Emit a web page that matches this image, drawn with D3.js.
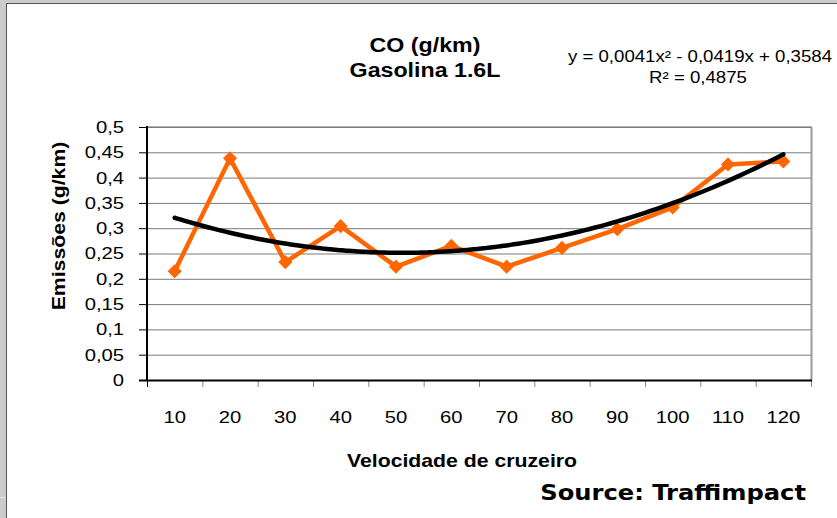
<!doctype html>
<html>
<head>
    <meta charset="utf-8">
    <style>
        body { margin: 0; background: #fff; }
        text { font-family: 'Liberation Sans', Arial, sans-serif; fill: #000; }
    </style>
    <script src="https://d3js.org/d3.v7.min.js"></script>
</head>
<body>
    <script>
        var categories = ["10", "20", "30", "40", "50", "60", "70", "80", "90", "100", "110", "120"];
        var emissions = [0.215, 0.438, 0.233, 0.304, 0.224, 0.265, 0.224, 0.261, 0.298, 0.341, 0.426, 0.432];
        var yTicks = [0, 0.05, 0.1, 0.15, 0.2, 0.25, 0.3, 0.35, 0.4, 0.45, 0.5];
        // polynomial trendline coefficients (c0, c1, c2), x = category index 1..12
        var trendCoef = [0.3584, -0.0419, 0.0041];

        var W = 837, H = 518;
        var SX = 1.19; // the original fonts run wider than Arial
        var svg = d3.select("body").append("svg").attr("width", W).attr("height", H);

        // frame
        svg.append("rect").attr("width", W).attr("height", H).attr("fill", "#cccccc");
        svg.append("rect").attr("x", 6).attr("y", 3).attr("width", W - 6).attr("height", H - 3).attr("fill", "#555");
        svg.append("rect").attr("x", 7).attr("y", 4).attr("width", W - 7).attr("height", H - 4).attr("fill", "#fff");
        svg.append("rect").attr("x", 0).attr("y", 497).attr("width", 6).attr("height", 1).attr("fill", "#e6e6e6");

        var pLeft = 147, pRight = 811, pTop = 127, pBottom = 380;

        var x = d3.scaleBand().domain(categories).range([pLeft, pRight]);
        var y = d3.scaleLinear().domain([0, 0.5]).range([pBottom, pTop]);
        var fmt = function(d) { return d3.format("~g")(d).replace(".", ","); };

        function label(px, py, str, size, opts) {
            opts = opts || {};
            var t = svg.append("text")
                .attr("transform", "translate(" + px + "," + py + ")" + (opts.rotate ? " rotate(" + opts.rotate + ")" : "") +
                    " scale(" + (opts.sx || SX) + ",1)")
                .attr("text-anchor", opts.anchor || "middle")
                .style("font-size", size + "px")
                .text(str);
            if (opts.bold) t.style("font-weight", "bold");
            if (opts.family) t.style("font-family", opts.family);
            return t;
        }

        // gridlines
        svg.append("g").selectAll("line").data(yTicks.slice(1)).enter().append("line")
            .attr("x1", pLeft).attr("x2", pRight)
            .attr("y1", function(d) { return y(d) + 0.5; })
            .attr("y2", function(d) { return y(d) + 0.5; })
            .attr("stroke", "#7a7a7a").attr("stroke-width", 1);

        // plot border (top/right)
        svg.append("line").attr("x1", pRight + 0.5).attr("x2", pRight + 0.5).attr("y1", pTop).attr("y2", pBottom)
            .attr("stroke", "#9a9a9a").attr("stroke-width", 2);
        svg.append("line").attr("x1", pLeft).attr("x2", pRight + 1).attr("y1", pTop - 0.5).attr("y2", pTop - 0.5)
            .attr("stroke", "#b0b0b0").attr("stroke-width", 1);

        // y axis
        var yAxis = svg.append("g").attr("transform", "translate(" + pLeft + ",0)")
            .call(d3.axisLeft(y).tickValues(yTicks).tickFormat(fmt).tickSize(8));
        yAxis.select(".domain").remove();
        yAxis.selectAll(".tick line").attr("stroke", "#000");
        yAxis.selectAll("text")
            .attr("x", -23 / SX)
            .attr("transform", "scale(" + SX + ",1)")
            .style("font-size", "17px").style("font-family", "'Liberation Sans', Arial, sans-serif");
        svg.append("line").attr("x1", pLeft).attr("x2", pLeft).attr("y1", pTop - 1).attr("y2", pBottom + 1)
            .attr("stroke", "#000").attr("stroke-width", 2);

        // x axis
        var xAxis = svg.append("g").attr("transform", "translate(0," + pBottom + ")")
            .call(d3.axisBottom(x).tickSize(0).tickPadding(31));
        xAxis.select(".domain").remove();
        xAxis.selectAll("text")
            .attr("transform", "scale(" + SX + ",1)")
            .style("font-size", "17px").style("font-family", "'Liberation Sans', Arial, sans-serif");
        var bounds = categories.map(function(c) { return x(c); }).concat([pRight]);
        svg.append("g").selectAll("line").data(bounds).enter().append("line")
            .attr("x1", function(d) { return d + 0.5; }).attr("x2", function(d) { return d + 0.5; })
            .attr("y1", pBottom).attr("y2", pBottom + 7)
            .attr("stroke", function(d, i) { return i === 0 ? "#000" : "#888"; }).attr("stroke-width", 1);
        svg.append("line").attr("x1", pLeft - 8).attr("x2", pRight + 1).attr("y1", pBottom + 0.5).attr("y2", pBottom + 0.5)
            .attr("stroke", "#000").attr("stroke-width", 2);

        var cx = function(i) { return x(categories[i]) + x.bandwidth() / 2; };

        // data line
        var line = d3.line().x(function(d, i) { return cx(i); }).y(function(d) { return y(d); });
        svg.append("path").datum(emissions).attr("d", line)
            .attr("fill", "none").attr("stroke", "#ff6600").attr("stroke-width", 4.5).attr("stroke-linejoin", "round");

        // markers: rotated squares
        var marker = d3.symbol().type(d3.symbolSquare).size(100);
        svg.append("g").selectAll("path").data(emissions).enter().append("path")
            .attr("d", marker)
            .attr("transform", function(d, i) { return "translate(" + cx(i) + "," + y(d) + ") rotate(45)"; })
            .attr("fill", "#ff6600");

        // trendline
        var xs = d3.range(1, 12.001, 0.1);
        var tx = d3.scaleLinear().domain([1, 12]).range([cx(0), cx(11)]);
        var trend = d3.line()
            .x(function(t) { return tx(t); })
            .y(function(t) { return y(trendCoef[0] + trendCoef[1] * t + trendCoef[2] * t * t); })
            .curve(d3.curveBasis);
        svg.append("path").datum(xs).attr("d", trend)
            .attr("fill", "none").attr("stroke", "#000").attr("stroke-width", 4.5).attr("stroke-linecap", "round");

        // titles
        label(425, 52, "CO (g/km)", 19.5, { bold: true });
        label(425, 77, "Gasolina 1.6L", 19.5, { bold: true });

        label(700, 62, "y = 0,0041x² - 0,0419x + 0,3584", 15.8, { sx: 1.18 });
        label(698, 83, "R² = 0,4875", 15.8, { sx: 1.18 });

        label(462, 467, "Velocidade de cruzeiro", 18, { bold: true, sx: 1.18 });
        label(65, 226, "Emissões (g/km)", 18, { bold: true, sx: 1.18, rotate: -90 });

        label(806, 500, "Source: Traffimpact", 22, {
            bold: true, anchor: "end", sx: 1.1, family: "'DejaVu Sans', Verdana, sans-serif"
        });
    </script>
</body>
</html>
